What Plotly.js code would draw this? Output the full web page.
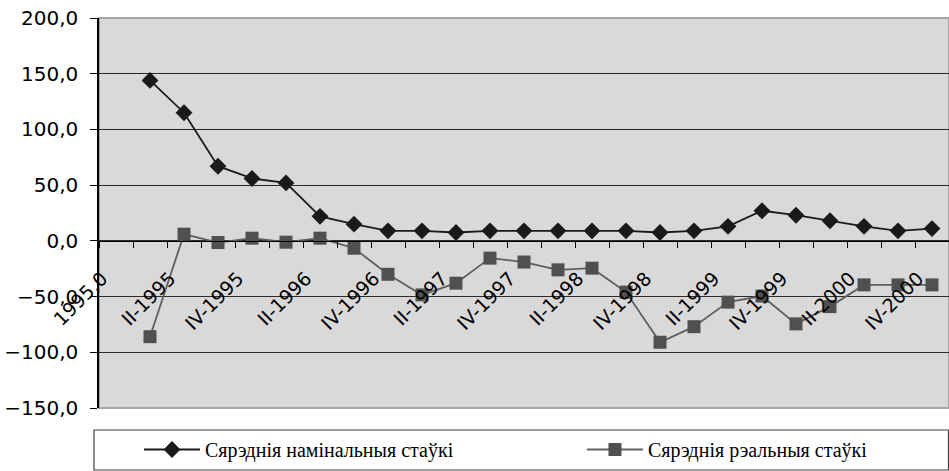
<!DOCTYPE html>
<html>
<head>
<meta charset="utf-8">
<script src="https://cdn.plot.ly/plotly-3.0.1.min.js"></script>
<style>
  html, body { margin: 0; padding: 0; background: #ffffff; }
  #chart { width: 949px; height: 471px; }
</style>
</head>
<body>
<div id="chart"></div>
<script>
// Categories (quarters); the first category carries no data
const categories = [
  "1995,0", "I-1995", "II-1995", "III-1995", "IV-1995",
  "I-1996", "II-1996", "III-1996", "IV-1996",
  "I-1997", "II-1997", "III-1997", "IV-1997",
  "I-1998", "II-1998", "III-1998", "IV-1998",
  "I-1999", "II-1999", "III-1999", "IV-1999",
  "I-2000", "II-2000", "III-2000", "IV-2000"
];
// Tick labels shown (every second category)
const tickLabels = [
  "1995,0", "", "II-1995", "", "IV-1995",
  "", "II-1996", "", "IV-1996",
  "", "II-1997", "", "IV-1997",
  "", "II-1998", "", "IV-1998",
  "", "II-1999", "", "IV-1999",
  "", "II-2000", "", "IV-2000"
];
// Average nominal rates
const nominalRates = [
  null, 144, 115, 67, 56, 52, 22, 15, 9, 9, 7.5, 9,
  9, 9, 9, 9, 7.5, 9, 13, 27, 23, 18, 13, 9, 11
];
// Average real rates
const realRates = [
  null, -86, 6, -1.5, 2.4, -1.2, 2.4, -6.6, -30, -48.5, -38, -15.5,
  -19, -26, -24.5, -46, -91, -77, -55, -49.5, -74.5, -59, -39.5, -39.5, -39.5
];
const seriesNames = ["Сярэднія намінальныя стаўкі", "Сярэднія рэальныя стаўкі"];

const traces = [
  {
    x: categories, y: nominalRates, name: seriesNames[0], legend: "legend",
    type: "scatter", mode: "lines+markers",
    line: { color: "#1a1a1a", width: 1.8 },
    marker: { symbol: "diamond", size: 13, color: "#1a1a1a" }
  },
  {
    x: categories, y: realRates, name: seriesNames[1], legend: "legend2",
    type: "scatter", mode: "lines+markers",
    line: { color: "#5f5f5f", width: 1.8 },
    marker: { symbol: "square", size: 13, color: "#505050" }
  }
];

const legendFont = { family: "Liberation Serif, DejaVu Serif, serif", size: 20, color: "#000000" };

const layout = {
  width: 949, height: 471,
  margin: { l: 99, r: 0, t: 18, b: 63, autoexpand: false },
  paper_bgcolor: "#ffffff",
  plot_bgcolor: "#d9d9d9",
  separators: ", ",
  showlegend: true,
  xaxis: {
    type: "category",
    categoryorder: "array", categoryarray: categories,
    range: [-0.5, categories.length - 0.5],
    anchor: "free", position: 150 / 350,
    tickmode: "array", tickvals: categories, ticktext: tickLabels,
    tickson: "boundaries",
    ticks: "outside", ticklen: 6, tickwidth: 1, tickcolor: "#000000",
    tickangle: -45,
    ticklabelshift: -14, ticklabelstandoff: 18,
    showline: true, linecolor: "#000000", linewidth: 1,
    showgrid: false, zeroline: false,
    tickfont: { family: "DejaVu Sans, Verdana, sans-serif", size: 19, color: "#000000" }
  },
  yaxis: {
    range: [-150, 200], dtick: 50, tick0: 0,
    tickformat: ".1f",
    ticks: "outside", ticklen: 7, tickwidth: 1, tickcolor: "#000000",
    ticklabelstandoff: 8,
    showline: true, linecolor: "#000000", linewidth: 1.5,
    showgrid: true, gridcolor: "#2b2b2b", gridwidth: 1,
    zeroline: false,
    tickfont: { family: "DejaVu Sans, Verdana, sans-serif", size: 20, color: "#000000" }
  },
  shapes: [
    { type: "rect", xref: "paper", yref: "paper", x0: 0, x1: 1, y0: 0, y1: 1,
      line: { color: "#a6a6a6", width: 2 }, layer: "below" },
    { type: "rect", xref: "paper", yref: "paper",
      x0: -5 / 850, x1: 849.5 / 850, y0: -22 / 390, y1: -62 / 390,
      line: { color: "#404040", width: 1.2 }, fillcolor: "#ffffff", layer: "below" }
  ],
  legend: {
    orientation: "h",
    x: 40 / 850, xanchor: "left",
    y: -22 / 390, yanchor: "top",
    bgcolor: "rgba(0,0,0,0)", borderwidth: 0,
    itemwidth: 56,
    font: legendFont
  },
  legend2: {
    orientation: "h",
    x: 483 / 850, xanchor: "left",
    y: -22 / 390, yanchor: "top",
    bgcolor: "rgba(0,0,0,0)", borderwidth: 0,
    itemwidth: 56,
    font: legendFont
  }
};

Plotly.newPlot("chart", traces, layout, { displayModeBar: false, responsive: false });
</script>
</body>
</html>
